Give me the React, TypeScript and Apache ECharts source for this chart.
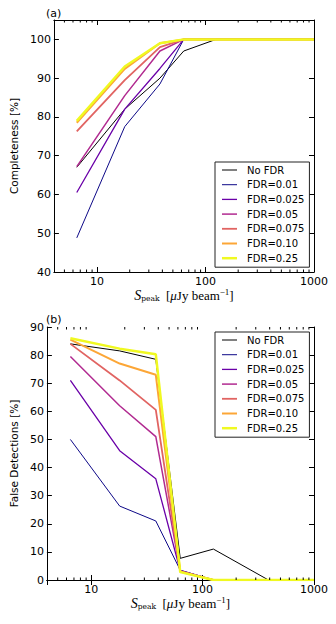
import React, { useEffect, useRef } from "react";
import * as echarts from "echarts";

// ---- data ----
const fluxBins = [6.5, 18, 38, 63, 125, 390, 1000];
const seriesNames = ["No FDR", "FDR=0.01", "FDR=0.025", "FDR=0.05", "FDR=0.075", "FDR=0.10", "FDR=0.25"];

const compNoFDR = [67, 82, 90, 97, 100, 100, 100];
const comp001 = [48.8, 77.5, 88.5, 100, 100, 100, 100];
const comp0025 = [60.5, 82, 92.5, 100, 100, 100, 100];
const comp005 = [67.2, 85.5, 97, 100, 100, 100, 100];
const comp0075 = [76.3, 89.5, 98, 100, 100, 100, 100];
const comp010 = [78.5, 92.4, 99, 100, 100, 100, 100];
const comp025 = [79, 93, 99, 100, 100, 100, 100];

const falseNoFDR = [84, 81.5, 78.5, 7.7, 11, 0, 0];
const false001 = [50, 26.3, 21, 3.5, 0, 0, 0];
const false0025 = [71, 46, 36, 3.3, 0, 0, 0];
const false005 = [79.5, 62, 51, 3.2, 0, 0, 0];
const false0075 = [84, 71, 60.5, 3, 0, 0, 0];
const false010 = [85.5, 77, 73, 3, 0, 0, 0];
const false025 = [86, 82.3, 80.3, 2.8, 0, 0, 0];

const compData = [compNoFDR, comp001, comp0025, comp005, comp0075, comp010, comp025];
const falseData = [falseNoFDR, false001, false0025, false005, false0075, false010, false025];

// ---- style ----
const lineColors = ["#000000", "#0d0887", "#6a00a8", "#b12a90", "#e16462", "#fca636", "#f0f921"];
const lineWidths = [1, 1, 1.3, 1.5, 1.8, 2, 2.5];

const minorVals: number[] = [];
[1, 10, 100].forEach((d) => {
  for (let k = 2; k <= 9; k++) {
    const v = k * d;
    if (v > 4 && v < 1000) minorVals.push(v);
  }
});

const SANS = "DejaVu Sans";

function isDecade(v: number) {
  const l = Math.log10(v);
  return Math.abs(l - Math.round(l)) < 1e-6;
}

const xName = "{i|S}{s|peak}{n|  [}{g|μ}{n|Jy beam}{p|−1}{n|]}";
const xNameStyle = {
  color: "#000",
  fontFamily: "DejaVu Serif",
  fontSize: 11,
  rich: {
    i: { fontFamily: "Liberation Serif", fontStyle: "italic", fontSize: 14, lineHeight: 15, color: "#000" },
    s: { fontFamily: "DejaVu Serif", fontSize: 7.5, lineHeight: 8, padding: [6, 0, 0, 0], verticalAlign: "bottom", color: "#000" },
    n: { fontFamily: "Liberation Serif", fontSize: 13, lineHeight: 15, color: "#000" },
    g: { fontFamily: "Liberation Serif", fontStyle: "italic", fontSize: 13, lineHeight: 15, color: "#000" },
    p: { fontFamily: "Liberation Serif", fontSize: 9, lineHeight: 9, verticalAlign: "top", color: "#000" },
  },
};

function xAxes(grid: number) {
  const common = {
    type: "log",
    logBase: 10,
    min: 4,
    max: 1000,
    gridIndex: grid,
    axisLine: { show: true, lineStyle: { color: "#000", width: 1 } },
    axisTick: { show: true, inside: true, length: 5, lineStyle: { color: "#000" } },
    splitLine: { show: false },
  };
  return [
    {
      ...common,
      position: "bottom",
      axisLabel: {
        show: true,
        margin: 4,
        color: "#000",
        fontFamily: SANS,
        fontSize: 11,
        showMaxLabel: true,
        showMinLabel: true,
        hideOverlap: false,
        formatter: (v: number) => (isDecade(v) ? String(Math.round(v)) : ""),
      },
      name: xName,
      nameLocation: "middle",
      nameGap: 15,
      nameTextStyle: xNameStyle,
    },
    { ...common, position: "top", axisLabel: { show: false } },
  ];
}

function yAxes(grid: number, min: number, max: number, name: string) {
  const common = {
    type: "value",
    min,
    max,
    interval: 10,
    gridIndex: grid,
    axisLine: { show: true, lineStyle: { color: "#000", width: 1 } },
    axisTick: { show: true, inside: true, length: 5, lineStyle: { color: "#000" } },
    splitLine: { show: false },
  };
  return [
    {
      ...common,
      position: "left",
      axisLabel: {
        show: true,
        margin: 3,
        color: "#000",
        fontFamily: SANS,
        fontSize: 11,
        formatter: (v: number) => (v % 10 === 0 ? String(v) : ""),
      },
      name,
      nameLocation: "middle",
      nameGap: 27,
      nameTextStyle: { color: "#000", fontFamily: SANS, fontSize: 10.5 },
    },
    { ...common, position: "right", axisLabel: { show: false } },
  ];
}

// minor ticks along one edge of a grid: yEdge is the y value of that edge, dir = -1 draws upward, +1 downward
function minorSeries(xi: number, yi: number, yEdge: number, dir: number) {
  return {
    type: "custom",
    name: "minor" + xi + "_" + dir,
    xAxisIndex: xi,
    yAxisIndex: yi,
    silent: true,
    clip: false,
    z: 20,
    data: minorVals.map((v) => [v, yEdge]),
    renderItem: (_params: any, api: any) => {
      const p = api.coord([api.value(0), api.value(1)]);
      return {
        type: "line",
        shape: { x1: p[0], y1: p[1], x2: p[0], y2: p[1] + dir * 2.5 },
        style: { stroke: "#000", lineWidth: 1 },
      };
    },
  };
}

function lineSeries(data: number[][], xi: number, yi: number) {
  return data.map((vals, i) => ({
    type: "line",
    name: seriesNames[i],
    xAxisIndex: xi,
    yAxisIndex: yi,
    symbol: "none",
    data: fluxBins.map((x, j) => [x, vals[j]]),
    lineStyle: { color: lineColors[i], width: lineWidths[i] },
    itemStyle: { color: lineColors[i] },
    z: 3 + i,
  }));
}

function legend(top: number) {
  return {
    orient: "vertical",
    left: 215,
    top,
    padding: [3, 5, 4, 7],
    itemGap: 4.7,
    itemWidth: 15,
    itemHeight: 10,
    symbolKeepAspect: true,
    borderColor: "#222",
    borderWidth: 1,
    borderRadius: 0,
    backgroundColor: "#fff",
    textStyle: { color: "#000", fontFamily: SANS, fontSize: 10, padding: [0, 0, 0, 5] },
    data: seriesNames.map((n, i) => ({
      name: n,
      icon: `path://M0,0 L30,0 L30,${(lineWidths[i] * 2).toFixed(1)} L0,${(lineWidths[i] * 2).toFixed(1)} Z`,
      itemStyle: { color: lineColors[i] },
    })),
  };
}

export default function App() {
  const ref = useRef<HTMLDivElement>(null);
  useEffect(() => {
    if (!ref.current) return;
    const chart = echarts.init(ref.current, null, { renderer: "svg" });
    chart.setOption({
      animation: false,
      backgroundColor: "#fff",
      grid: [
        { left: 46, top: 20, width: 268, height: 252 },
        { left: 46, top: 327, width: 268, height: 253 },
      ],
      xAxis: [...xAxes(0), ...xAxes(1)],
      yAxis: [
        ...yAxes(0, 40, 105, "Completeness [%]"),
        ...yAxes(1, 0, 90, "False Detections [%]"),
      ],
      legend: [legend(162), legend(332)],
      graphic: [
        { type: "text", left: 46, top: 8, style: { text: "(a)", fill: "#000", font: `11px "${SANS}"` } },
        { type: "text", left: 46, top: 314, style: { text: "(b)", fill: "#000", font: `11px "${SANS}"` } },
      ],
      series: [
        minorSeries(0, 0, 40, -1),
        minorSeries(0, 0, 105, 1),
        minorSeries(2, 2, 0, -1),
        minorSeries(2, 2, 90, 1),
        ...lineSeries(compData, 0, 0),
        ...lineSeries(falseData, 2, 2),
      ],
    });
    return () => chart.dispose();
  }, []);
  return (
    <div
      ref={ref}
      style={{ position: "fixed", left: 0, top: 0, width: 336, height: 624, background: "#fff" }}
    />
  );
}
